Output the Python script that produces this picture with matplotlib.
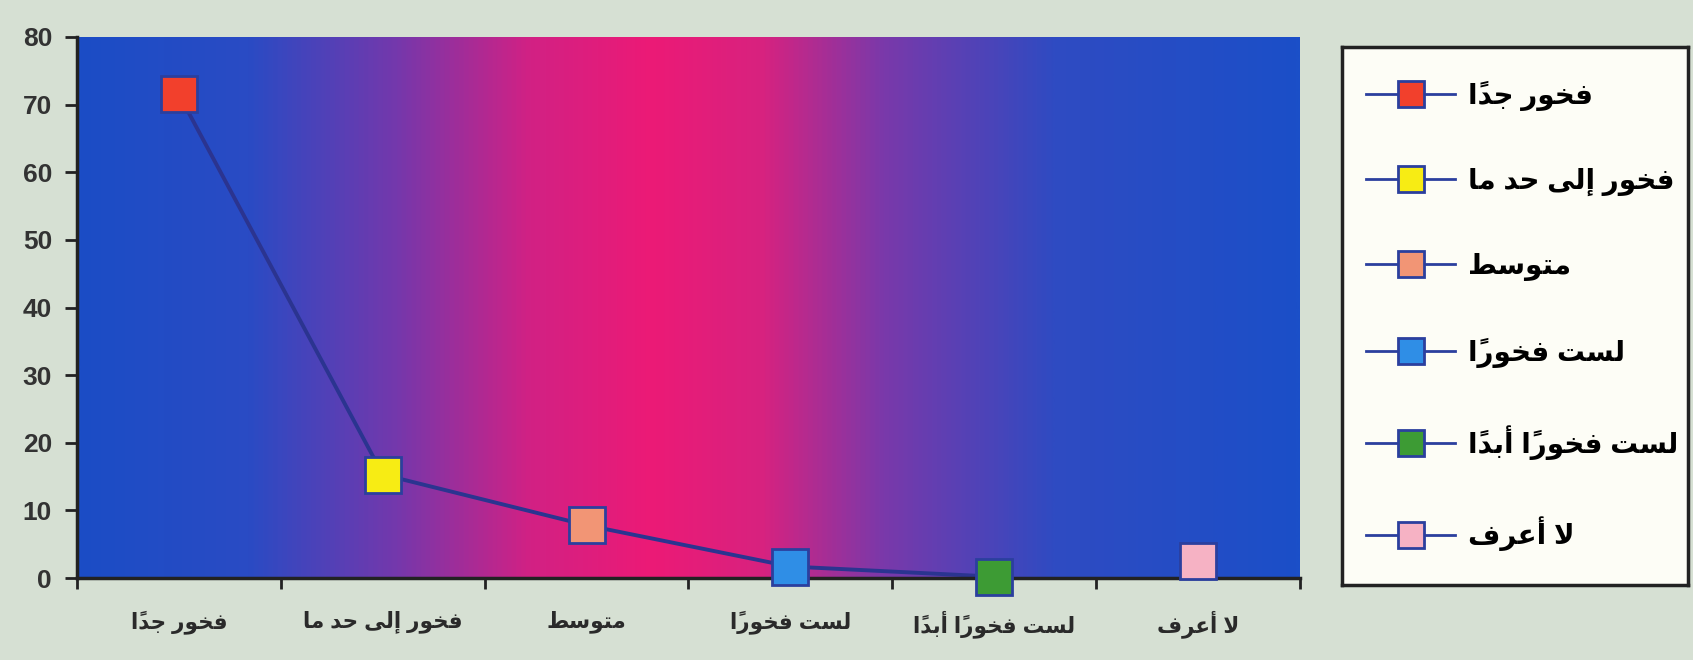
import matplotlib
matplotlib.use('Agg')
import matplotlib.pyplot as plt
from matplotlib.colors import LinearSegmentedColormap
from matplotlib.lines import Line2D
import numpy as np

# البيانات
categories = ['فخور جداً', 'فخور إلى حد ما', 'متوسط', 'لست فخوراً', 'لست فخوراً أبداً', 'لا أعرف']
values = [71.5, 15.3, 7.8, 1.7, 0.2, 2.5]
marker_colors = ['#f2402c', '#f7ec14', '#f29575', '#2f8ee6', '#3d9b34', '#f6b2c4']
y_ticks = [0, 10, 20, 30, 40, 50, 60, 70, 80]

# أشكال العرض العربية (Presentation Forms-B): isol, final, init, medi
FORMS = {
    'ا': ('\uFE8D', '\uFE8E', None, None),
    'أ': ('\uFE83', '\uFE84', None, None),
    'إ': ('\uFE87', '\uFE88', None, None),
    'ب': ('\uFE8F', '\uFE90', '\uFE91', '\uFE92'),
    'ت': ('\uFE95', '\uFE96', '\uFE97', '\uFE98'),
    'ج': ('\uFE9D', '\uFE9E', '\uFE9F', '\uFEA0'),
    'ح': ('\uFEA1', '\uFEA2', '\uFEA3', '\uFEA4'),
    'خ': ('\uFEA5', '\uFEA6', '\uFEA7', '\uFEA8'),
    'د': ('\uFEA9', '\uFEAA', None, None),
    'ر': ('\uFEAD', '\uFEAE', None, None),
    'س': ('\uFEB1', '\uFEB2', '\uFEB3', '\uFEB4'),
    'ط': ('\uFEC1', '\uFEC2', '\uFEC3', '\uFEC4'),
    'ع': ('\uFEC9', '\uFECA', '\uFECB', '\uFECC'),
    'ف': ('\uFED1', '\uFED2', '\uFED3', '\uFED4'),
    'ل': ('\uFEDD', '\uFEDE', '\uFEDF', '\uFEE0'),
    'م': ('\uFEE1', '\uFEE2', '\uFEE3', '\uFEE4'),
    'و': ('\uFEED', '\uFEEE', None, None),
    'ى': ('\uFEEF', '\uFEF0', None, None),
}
LAM_ALEF = {'ا': ('\uFEFB', '\uFEFC'), 'أ': ('\uFEF7', '\uFEF8'), 'إ': ('\uFEF9', '\uFEFA')}
MARKS = {'\u064B'}


def shape_ar(text):
    """تشكيل النص العربي يدوياً ثم عكسه للعرض"""
    clusters = []
    for ch in text:
        if ch in MARKS and clusters:
            clusters[-1][1] += ch
        else:
            clusters.append([ch, ''])
    merged = []
    i = 0
    while i < len(clusters):
        b, m = clusters[i]
        if b == 'ل' and i + 1 < len(clusters) and clusters[i + 1][0] in LAM_ALEF:
            merged.append(['LA' + clusters[i + 1][0], clusters[i + 1][1]])
            i += 2
        else:
            merged.append([b, m])
            i += 1

    def joining(c):
        return c is not None and (c in FORMS or c.startswith('LA'))

    def dual(c):
        return c is not None and c in FORMS and FORMS[c][2] is not None

    out = []
    for i, (b, m) in enumerate(merged):
        prev = merged[i - 1][0] if i > 0 else None
        nxt = merged[i + 1][0] if i + 1 < len(merged) else None
        jp = dual(prev) and joining(b)
        jn = dual(b) and joining(nxt)
        if b.startswith('LA'):
            g = LAM_ALEF[b[2]][1 if jp else 0]
        elif b in FORMS:
            f = FORMS[b]
            if jp and jn:
                g = f[3]
            elif jp:
                g = f[1]
            elif jn:
                g = f[2]
            else:
                g = f[0]
        else:
            g = b
        out.append(g + m)
    return ''.join(reversed(out))


plt.rcParams['font.family'] = ['Liberation Sans', 'DejaVu Sans']

fig = plt.figure(figsize=(16.93, 6.6), dpi=100)
fig.patch.set_facecolor('#d6e0d3')

ax = fig.add_axes([77 / 1693, 82 / 660, 1223 / 1693, 541 / 660])

# خلفية متدرجة
grad_cmap = LinearSegmentedColormap.from_list('grad', [
    (0.0, '#1b4dc6'), (0.14, '#2a4bc4'), (0.26, '#7438ac'), (0.37, '#d22184'),
    (0.47, '#ec1a76'), (0.56, '#d8227f'), (0.66, '#7a39aa'), (0.8, '#2f4bc2'),
    (1.0, '#1b4fc8')])
grad = np.linspace(0, 1, 512).reshape(1, -1)
ax.imshow(grad, extent=[-0.5, 5.5, 0, 80], aspect='auto', cmap=grad_cmap, zorder=0)

x = np.arange(len(categories))
ax.plot(x[:5], values[:5], color='#2b3490', lw=2.8, zorder=2)

handles = []
for i, (v, c) in enumerate(zip(values, marker_colors)):
    ax.plot([x[i]], [v], marker='s', markersize=26, markerfacecolor=c,
            markeredgecolor='#2b3f9e', markeredgewidth=2, linestyle='none',
            zorder=3, clip_on=False)
    handles.append(Line2D([0], [0], color='#2b3f9e', lw=2, marker='s', markersize=19,
                          markerfacecolor=c, markeredgecolor='#2b3f9e', markeredgewidth=2))

ax.set_xlim(-0.5, 5.5)
ax.set_ylim(0, 80)
ax.set_yticks(y_ticks)
ax.set_yticklabels([str(t) for t in y_ticks], fontsize=19, fontweight='bold', color='#333333')
ax.tick_params(axis='y', length=9, width=2, color='#222222', pad=9)

ax.set_xticks(np.arange(-0.5, 6, 1.0))
ax.set_xticklabels([])
ax.tick_params(axis='x', which='major', length=8, width=2, color='#222222')
ax.set_xticks(x, minor=True)
ax.set_xticklabels([shape_ar(c) for c in categories], minor=True,
                   fontsize=15.5, fontweight='bold', color='#2a2a2a')
ax.tick_params(axis='x', which='minor', length=0, pad=23)

for side in ['top', 'right']:
    ax.spines[side].set_visible(False)
for side in ['left', 'bottom']:
    ax.spines[side].set_linewidth(2.5)
    ax.spines[side].set_color('#222222')
    ax.spines[side].set_zorder(2.5)

# صندوق وسيلة الإيضاح
lax = fig.add_axes([1342 / 1693, 75 / 660, 346 / 1693, 538 / 660])
lax.set_facecolor('#fdfdf6')
lax.set_xticks([])
lax.set_yticks([])
for s in lax.spines.values():
    s.set_linewidth(2.5)
    s.set_color('#222222')
lax.legend(handles, [shape_ar(c) for c in categories], loc='center left',
           bbox_to_anchor=(0.07, 0.5), frameon=False, borderaxespad=0, borderpad=0,
           prop={'size': 20, 'weight': 'bold'}, labelspacing=2.05,
           handlelength=3.2, handletextpad=0.45)

fig.savefig('out.png', dpi=100, facecolor=fig.get_facecolor())
